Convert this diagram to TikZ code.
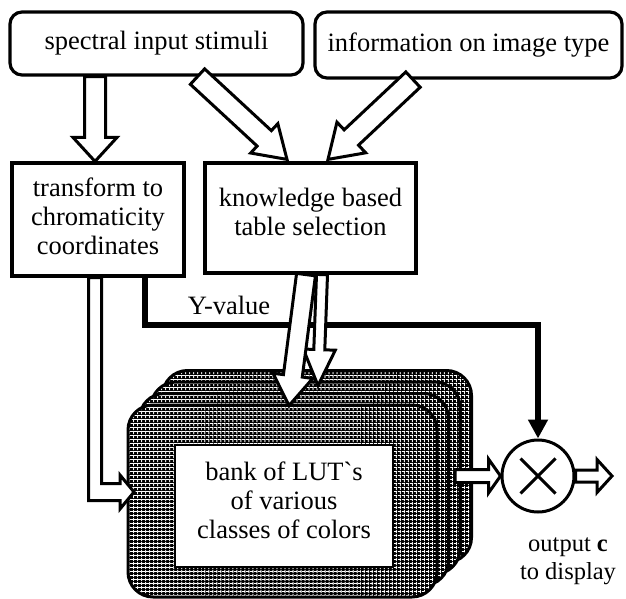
\documentclass[tikz,border=0pt]{standalone}
\usepackage{fontspec}
\setmainfont{Liberation Serif}
\usetikzlibrary{calc,arrows.meta,patterns.meta}
\tikzset{
  barrow/.style={fill=white, draw=black, line width=3pt, line join=miter},
  rbox/.style={draw, line width=3.2pt, rounded corners=12pt, inner sep=0pt},
  sbox/.style={draw, line width=3.2pt, inner sep=0pt},
  layer/.style={preaction={fill=black},
    preaction={pattern={Lines[angle=0,distance=4pt,line width=0.9pt]}, pattern color=white},
    pattern={Lines[angle=90,distance=4pt,line width=0.9pt]}, pattern color=white,
    draw=black, line width=3pt, rounded corners=25pt},
  yline/.style={line width=5.5pt, line join=miter, -{Triangle[width=19pt,length=19pt]}},
  txt/.style={align=center, inner sep=0pt}
}
% #1 options, #2 start, #3 tip, #4 half shaft, #5 half head, #6 head length
\newcommand{\blockarrow}[6][]{%
  \coordinate (ba-s) at (#2);
  \coordinate (ba-e) at (#3);
  \coordinate (ba-h) at ($(ba-e)!#6!(ba-s)$);
  \draw[barrow,#1] ($(ba-s)!#4!90:(ba-e)$) -- ($(ba-h)!#4!90:(ba-e)$) -- ($(ba-h)!#5!90:(ba-e)$) -- (ba-e) -- ($(ba-h)!#5!-90:(ba-e)$) -- ($(ba-h)!#4!-90:(ba-e)$) -- ($(ba-s)!#4!-90:(ba-e)$) -- cycle;
}
\begin{document}
\begin{tikzpicture}[x=1pt, y=-1pt, font=\fontsize{26.5pt}{29pt}\selectfont]
\useasboundingbox (0,0) rectangle (626,599);

% top boxes
\node[rbox, minimum width=293pt, minimum height=63pt] (spec) at (156.5,43.5) {spectral input stimuli};
\node[rbox, minimum width=307pt, minimum height=66pt] (info) at (468.5,45) {information on image type};

% middle boxes
\node[sbox, minimum width=172pt, minimum height=113pt] (trans) at (98,219.5) {};
\node[txt] (transtxt) at ($(trans.center)+(0,-3)$) {transform to\\chromaticity\\coordinates};
\node[sbox, minimum width=211pt, minimum height=110pt] (know) at (310.5,218) {};
\node[txt] (knowtxt) at ($(know.center)+(0,-6)$) {knowledge based\\table selection};

% stack of LUT layers
\foreach \k in {3,2,1,0} {
  \path[layer] ($(128,405)+({\k*11.5},{-\k*11.5})$) rectangle ++(309,192);
}
\coordinate (bankW) at (128,492);
\coordinate (bankE) at (455,476);
\node[sbox, line width=2pt, fill=white, minimum width=218pt, minimum height=122pt] (lut) at (284,506) {};
\node[txt] (luttxt) at ($(lut.center)+(0,-6)$) {bank of LUT\textasciigrave s\\of various\\classes of colors};

% multiplier
\node[circle, draw, line width=3pt, minimum size=72pt, inner sep=0pt] (circ) at (538,476) {};
\draw[line width=3pt] ($(circ.center)+(-17.5,-17.5)$) -- ($(circ.center)+(17.5,17.5)$);
\draw[line width=3pt] ($(circ.center)+(-17.5,17.5)$) -- ($(circ.center)+(17.5,-17.5)$);
\node[txt, font=\fontsize{24.5pt}{28pt}\selectfont] (outtxt) at (568,561) {output \textbf{c}\\to display};

% Y-value line
\coordinate (ycorner) at (538,325);
\draw[yline] ($(trans.south)+(47,0)$) |- (ycorner) -- (circ.north);
\node[txt] (ytxt) at (229,305) {Y-value};

% block arrows
\blockarrow{$(spec.south -| trans.north)+(-3,0)$}{$(trans.north)+(-3,0)$}{10.5pt}{22pt}{24pt}
\blockarrow{$(spec.south)+(41,0)$}{$(know.north)+(-23.5,-2)$}{10.5pt}{20pt}{31pt}
\blockarrow{$(info.south)+(-55.5,0)$}{$(know.north)+(17.5,-2)$}{10.5pt}{21pt}{32pt}
\blockarrow{$(know.south)+(11.5,0)$}{$(know.south)+(7.5,111)$}{5.5pt}{16pt}{36pt}
\blockarrow{$(know.south)+(-4.5,0)$}{$(know.south)+(-21.5,131)$}{9.5pt}{20pt}{30pt}
\blockarrow{bankE}{circ.west}{6.5pt}{17pt}{12pt}
\coordinate (outtip) at (612,476);
\blockarrow{circ.east}{outtip}{6pt}{16.5pt}{15pt}

% L-shaped arrow from transform box to bank
\draw[barrow] ($(trans.south)+(-9.5,0)$) |- ($(bankW)+(-8,8.5)$) -- ($(bankW)+(-8,17)$) -- ($(bankW)+(6,0)$) -- ($(bankW)+(-8,-17)$) -- ($(bankW)+(-8,-8.5)$) -| ($(trans.south)+(3.5,0)$) -- cycle;
\end{tikzpicture}
\end{document}
